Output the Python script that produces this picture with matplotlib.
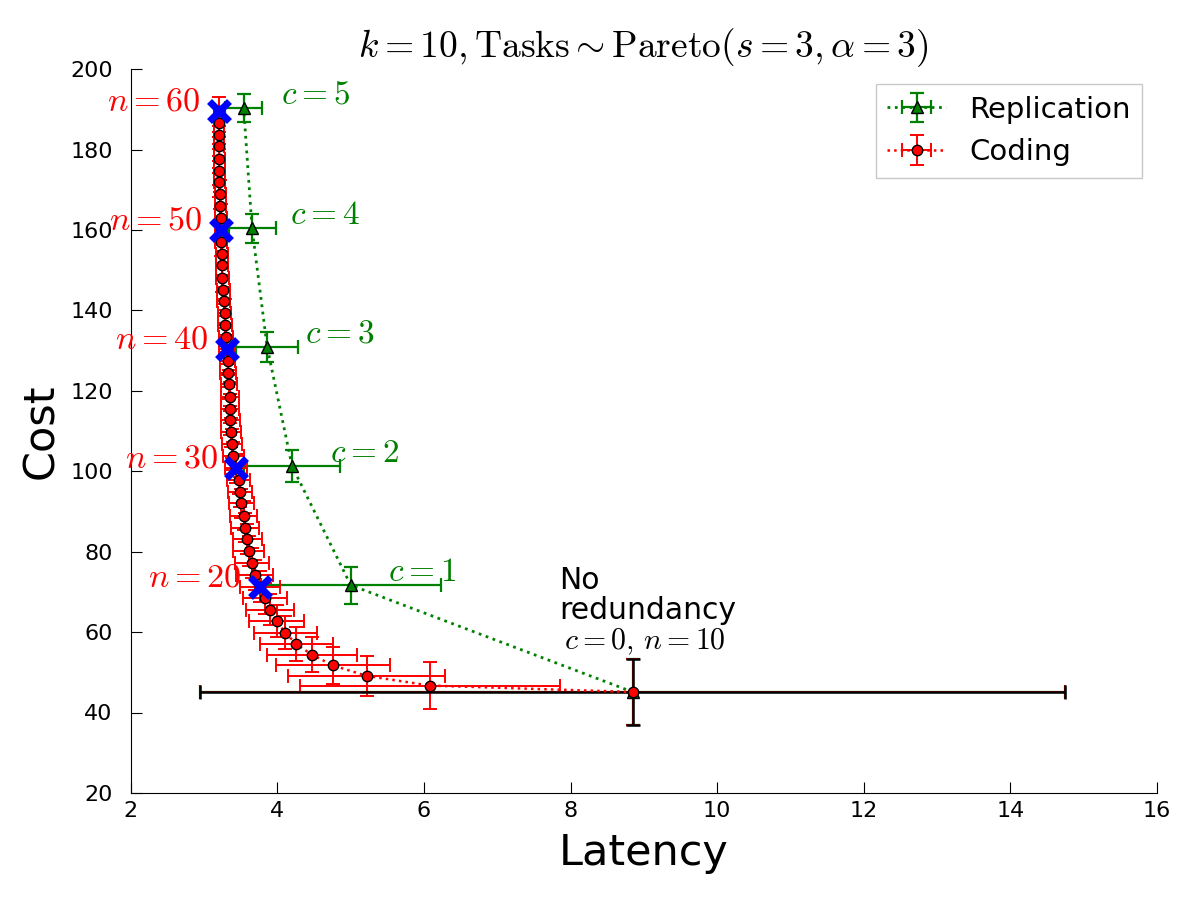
import matplotlib
matplotlib.use("Agg")
import matplotlib.pyplot as plt

plt.rcParams['mathtext.fontset'] = 'cm'
plt.rcParams['font.family'] = 'DejaVu Sans'

# ------------------ Replication data (c = 0 .. 5) ------------------
rep_c = [0, 1, 2, 3, 4, 5]
rep_latency = [8.85, 5.00, 4.20, 3.86, 3.655, 3.54]
rep_cost = [45.1, 71.7, 101.3, 131.0, 160.4, 190.4]
rep_latency_err = [5.9, 1.23, 0.65, 0.425, 0.32, 0.25]
rep_cost_err = [8.2, 4.6, 4.0, 3.7, 3.6, 3.5]

# ------------------ Coding data (n = 10 .. 60) ------------------
cod_n = list(range(10, 61))
cod_latency = [8.85,
               6.08, 5.22, 4.76, 4.47, 4.26, 4.11, 3.99, 3.90, 3.83, 3.76,
               3.69, 3.65, 3.61, 3.59, 3.56, 3.54, 3.51, 3.49, 3.47, 3.44,
               3.40, 3.38, 3.37, 3.36, 3.355, 3.35, 3.34, 3.33, 3.32, 3.31,
               3.30, 3.29, 3.28, 3.27, 3.26, 3.25, 3.24, 3.24, 3.23, 3.23,
               3.23, 3.22, 3.22, 3.21, 3.21, 3.21, 3.20, 3.20, 3.20, 3.20]
cod_cost = [45.1,
            46.7, 49.1, 51.7, 54.4, 57.0, 59.8, 62.7, 65.6, 68.4, 71.3,
            74.2, 77.2, 80.1, 83.1, 86.0, 89.0, 92.0, 94.9, 97.9, 100.8,
            103.8, 106.8, 109.7, 112.7, 115.6, 118.6, 121.6, 124.5, 127.5, 130.4,
            133.4, 136.4, 139.3, 142.3, 145.2, 148.2, 151.2, 154.1, 157.1, 160.0,
            163.0, 166.0, 168.9, 171.9, 174.8, 177.8, 180.8, 183.7, 186.7, 189.6]
cod_latency_err = [5.9,
                   1.77, 1.07, 0.78, 0.61, 0.50, 0.43, 0.375, 0.33, 0.30, 0.27,
                   0.25, 0.23, 0.21, 0.20, 0.19, 0.18, 0.17, 0.165, 0.16, 0.15,
                   0.145, 0.14, 0.135, 0.13, 0.125, 0.12, 0.115, 0.11, 0.105, 0.10,
                   0.098, 0.095, 0.092, 0.09, 0.088, 0.086, 0.084, 0.082, 0.08, 0.078,
                   0.076, 0.075, 0.074, 0.073, 0.072, 0.071, 0.07, 0.07, 0.069, 0.068]
cod_cost_err = [8.2,
                5.8, 5.0, 4.6, 4.4, 4.2, 4.1, 4.0, 3.9, 3.9, 3.8,
                3.8, 3.8, 3.7, 3.7, 3.7, 3.7, 3.7, 3.7, 3.6, 3.6,
                3.6, 3.6, 3.6, 3.6, 3.6, 3.6, 3.6, 3.6, 3.6, 3.6,
                3.6, 3.6, 3.6, 3.6, 3.6, 3.6, 3.6, 3.6, 3.6, 3.6,
                3.6, 3.6, 3.6, 3.6, 3.6, 3.6, 3.6, 3.6, 3.6, 3.6]

# n values that get a blue cross and a label
marked_n = [20, 30, 40, 50, 60]

# ------------------ Plotting ------------------
fig = plt.figure(figsize=(12, 9), dpi=100)
ax = fig.add_subplot(111)
fig.subplots_adjust(left=0.109, right=0.964, top=0.923, bottom=0.119)

ax.errorbar(rep_latency, rep_cost, xerr=rep_latency_err, yerr=rep_cost_err,
            fmt='^:', color='g', mfc='g', mec='k', ms=8, lw=2, elinewidth=1.6,
            capsize=5, capthick=1.6, label='Replication')
ax.errorbar(cod_latency, cod_cost, xerr=cod_latency_err, yerr=cod_cost_err,
            fmt='o:', color='r', mfc='r', mec='k', ms=7.5, lw=1.8, elinewidth=1.4,
            capsize=5, capthick=1.4, label='Coding')

# no redundancy point in black
ax.errorbar(cod_latency[0], cod_cost[0], xerr=cod_latency_err[0], yerr=cod_cost_err[0],
            fmt='none', ecolor='k', elinewidth=1.8, capsize=5, capthick=1.8)

# blue crosses on the coding curve
for n in marked_n:
    i = cod_n.index(n)
    ax.plot(cod_latency[i], cod_cost[i], 'x', color='b', ms=15, mew=5, zorder=5)
    ax.annotate(r'$n=%d$' % n, (cod_latency[i], cod_cost[i]),
                xytext=(-13, 7), textcoords='offset points',
                ha='right', va='center', color='r', fontsize=24.5)

for i in range(1, len(rep_c)):
    ax.annotate(r'$c=%d$' % rep_c[i], (rep_latency[i], rep_cost[i]),
                xytext=(27, 10), textcoords='offset points',
                ha='left', va='center', color='g', fontsize=24)

ax.annotate('No\nredundancy', (cod_latency[0], cod_cost[0]),
            xytext=(-53, 91), textcoords='offset points',
            ha='left', va='top', fontsize=21.5, linespacing=1.05)
ax.annotate(r'$c=0,\,n=10$', (cod_latency[0], cod_cost[0]),
            xytext=(9, 36), textcoords='offset points',
            ha='center', va='center', fontsize=21.5)

# Formatting the plot
ax.set_xlim(2, 16)
ax.set_ylim(20, 200)
ax.set_xticks(range(2, 17, 2))
ax.set_yticks(range(20, 201, 20))
ax.spines['top'].set_visible(False)
ax.spines['right'].set_visible(False)
ax.tick_params(direction='in', length=8, labelsize=16, top=False, right=False)
ax.tick_params(axis='x', pad=6)
ax.tick_params(axis='y', pad=13)

ax.set_title(r'$k=10, \mathrm{Tasks} \sim \mathrm{Pareto}(s=3, \alpha=3)$', fontsize=27, pad=8)
ax.set_xlabel('Latency', fontsize=31, labelpad=8)
ax.set_ylabel('Cost', fontsize=31, labelpad=6)
ax.legend(loc='upper right', fontsize=21, numpoints=1, fancybox=False, edgecolor='#bbbbbb')

plt.savefig('out.png', dpi=100)
